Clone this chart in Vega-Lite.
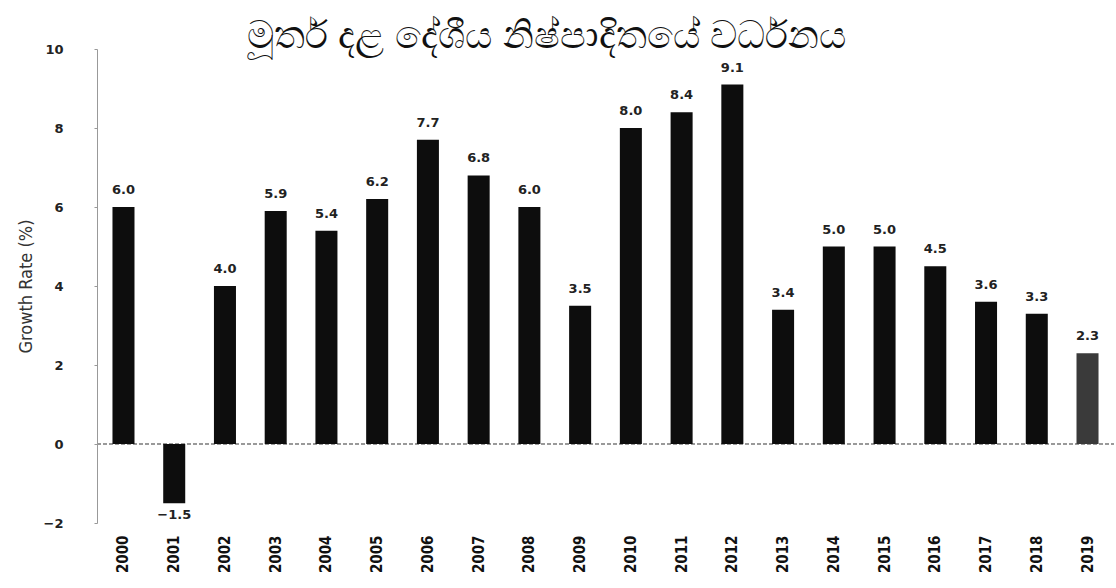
{
  "$schema": "https://vega.github.io/schema/vega-lite/v6.json",
  "width": 1017,
  "height": 474,
  "autosize": {"type": "none"},
  "padding": {"left": 97, "top": 49, "right": 2, "bottom": 65},
  "background": "white",
  "title": {
    "text": "මූර්ත දළ දේශීය නිෂ්පාදිතයේ වර්ධනය",
    "fontSize": 38,
    "fontWeight": 500,
    "color": "#111",
    "anchor": "middle",
    "frame": "group",
    "dx": -59,
    "offset": 0,
    "baseline": "alphabetic",
    "dy": 43
  },
  "data": {
    "values": [
      {"year": "2000", "growth": 6.0},
      {"year": "2001", "growth": -1.5},
      {"year": "2002", "growth": 4.0},
      {"year": "2003", "growth": 5.9},
      {"year": "2004", "growth": 5.4},
      {"year": "2005", "growth": 6.2},
      {"year": "2006", "growth": 7.7},
      {"year": "2007", "growth": 6.8},
      {"year": "2008", "growth": 6.0},
      {"year": "2009", "growth": 3.5},
      {"year": "2010", "growth": 8.0},
      {"year": "2011", "growth": 8.4},
      {"year": "2012", "growth": 9.1},
      {"year": "2013", "growth": 3.4},
      {"year": "2014", "growth": 5.0},
      {"year": "2015", "growth": 5.0},
      {"year": "2016", "growth": 4.5},
      {"year": "2017", "growth": 3.6},
      {"year": "2018", "growth": 3.3},
      {"year": "2019", "growth": 2.3}
    ]
  },
  "config": {"view": {"stroke": null}},
  "encoding": {
    "x": {
      "field": "year",
      "type": "ordinal",
      "scale": {"paddingInner": 0.566, "paddingOuter": 0.305},
      "axis": {
        "title": null,
        "orient": "bottom",
        "domain": false,
        "ticks": false,
        "labelAngle": 270,
        "labelAlign": "right",
        "labelBaseline": "middle",
        "labelPadding": 12,
        "labelFont": "DejaVu Sans Condensed",
        "labelFontWeight": "bold",
        "labelFontSize": 15,
        "labelColor": "#111"
      }
    },
    "y": {
      "field": "growth",
      "type": "quantitative",
      "scale": {"domain": [-2, 10], "nice": false, "zero": false},
      "axis": {
        "values": [-2, 0, 2, 4, 6, 8, 10],
        "grid": false,
        "domainColor": "#999",
        "domainWidth": 1,
        "tickColor": "#999",
        "tickSize": 3,
        "labelPadding": 31,
        "labelAlign": "right",
        "labelFont": "DejaVu Sans",
        "labelFontWeight": "bold",
        "labelFontSize": 13,
        "labelColor": "#222",
        "title": "Growth Rate (%)",
        "titleFont": "DejaVu Sans Condensed",
        "titleFontWeight": "normal",
        "titleFontSize": 18,
        "titleColor": "#333",
        "titleAngle": 270,
        "titleAlign": "center",
        "titleBaseline": "middle",
        "titleX": -71,
        "titleY": 237
      }
    }
  },
  "layer": [
    {
      "mark": {"type": "rule", "color": "#999", "strokeWidth": 1, "strokeDash": [4, 2]},
      "encoding": {"y": {"datum": 0}, "x": {"value": 0}, "x2": {"value": 1017}}
    },
    {
      "mark": {"type": "bar"},
      "encoding": {
        "y2": {"datum": 0},
        "color": {
          "condition": {"test": "datum.year === '2019'", "value": "#3a3a3a"},
          "value": "#0d0d0d"
        }
      }
    },
    {
      "transform": [{"filter": "datum.growth >= 0"}],
      "mark": {"type": "text", "baseline": "alphabetic", "dy": -13, "font": "DejaVu Sans", "fontWeight": "bold", "fontSize": 13, "color": "#222"},
      "encoding": {"text": {"field": "growth", "type": "quantitative", "format": ".1f"}}
    },
    {
      "transform": [{"filter": "datum.growth < 0"}],
      "mark": {"type": "text", "baseline": "top", "dy": 6, "font": "DejaVu Sans", "fontWeight": "bold", "fontSize": 13, "color": "#222"},
      "encoding": {"text": {"field": "growth", "type": "quantitative", "format": ".1f"}}
    }
  ]
}
